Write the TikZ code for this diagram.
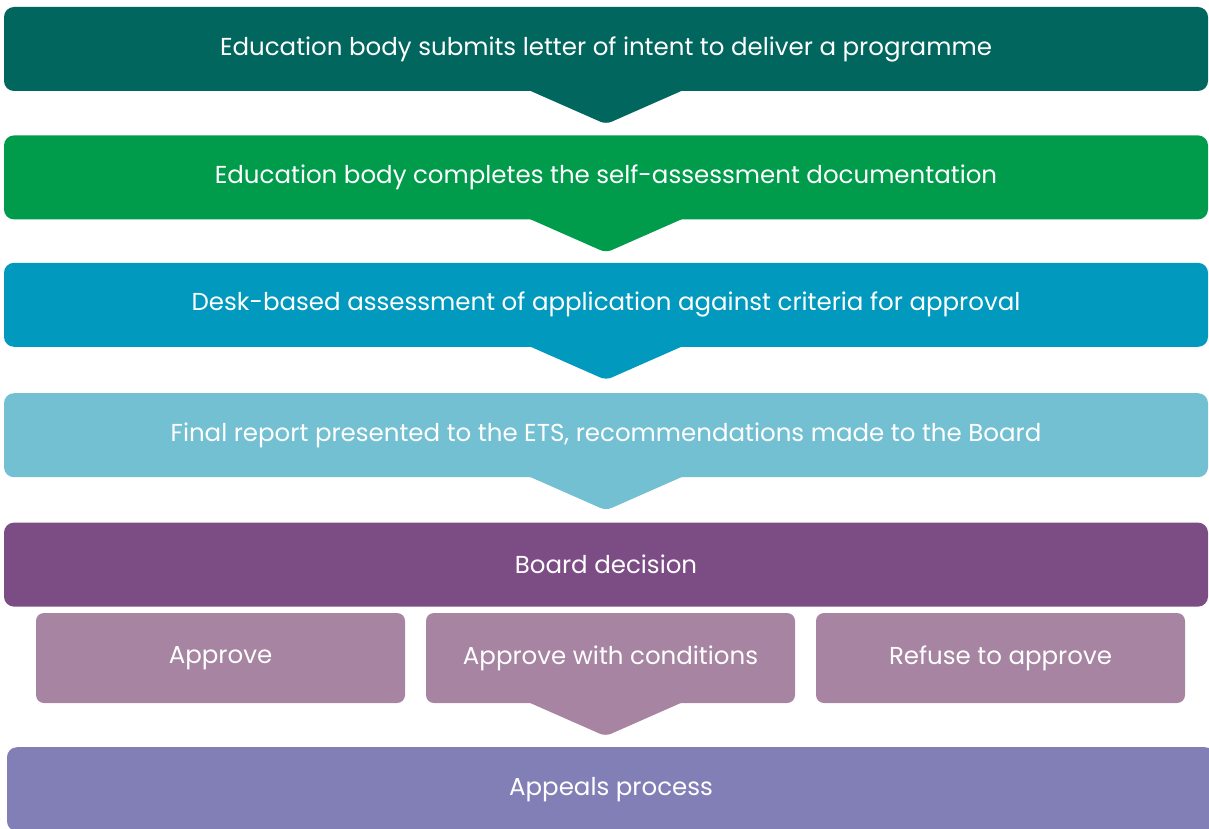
\documentclass[tikz,border=0pt]{standalone}
\usepackage{fontspec}
\setmainfont{Poppins}
\usetikzlibrary{positioning}
\definecolor{tealdark}{HTML}{01665E}
\definecolor{greenmid}{HTML}{019C4B}
\definecolor{bluemid}{HTML}{0199BE}
\definecolor{bluelight}{HTML}{73C0D3}
\definecolor{plumdark}{HTML}{7C4D84}
\definecolor{plumlight}{HTML}{A784A2}
\definecolor{lavender}{HTML}{827FB6}
\tikzset{
  stage/.style={fill=#1, rounded corners=10pt, text=white, minimum width=1204pt,
    minimum height=84pt, inner sep=0pt, font=\fontsize{24.5}{29}\selectfont},
  outcome/.style={fill=plumlight, rounded corners=8pt, text=white, minimum width=369pt,
    minimum height=90pt, inner sep=0pt, font=\fontsize{24.5}{29}\selectfont},
}
% chevron below a box: node, colour, horizontal offset
\newcommand{\chevron}[3]{%
  \fill [#2, rounded corners=6pt] ([xshift=#3-93pt,yshift=8pt]#1.south)
    -- ([xshift=#3,yshift=-33pt]#1.south)
    -- ([xshift=#3+93pt,yshift=8pt]#1.south) -- cycle;}

\begin{document}
\begin{tikzpicture}[x=1pt,y=-1pt,node distance=44pt]
\useasboundingbox (0,0) rectangle (1209,829);
\clip (0,0) rectangle (1209,829);
\node [stage=tealdark] (letter) at (606,49) {Education body submits letter of intent to deliver a programme};
\node [stage=greenmid, below=of letter] (selfassess) {Education body completes the self-assessment documentation};
\node [stage=bluemid, below=43pt of selfassess] (desk) {Desk-based assessment of application against criteria for approval};
\node [stage=bluelight, below=46pt of desk] (report) {Final report presented to the ETS, recommendations made to the Board};
\node [stage=plumdark, below=45pt of report] (board) {Board decision};
\node [outcome] (approve) at (220.5,658) {Approve};
\node [outcome] (conditions) at (610.5,658) {Approve with conditions};
\node [outcome] (refuse) at (1000.5,658) {Refuse to approve};
\node [stage=lavender, minimum width=1208pt, anchor=north] (appeals) at (611,747) {};
\node [text=white, font=\fontsize{24.5}{29}\selectfont] at (611,790) {Appeals process};
\chevron{letter}{tealdark}{0pt}
\chevron{selfassess}{greenmid}{0pt}
\chevron{desk}{bluemid}{0pt}
\chevron{report}{bluelight}{0pt}
\chevron{conditions}{plumlight}{-5pt}
\end{tikzpicture}
\end{document}
